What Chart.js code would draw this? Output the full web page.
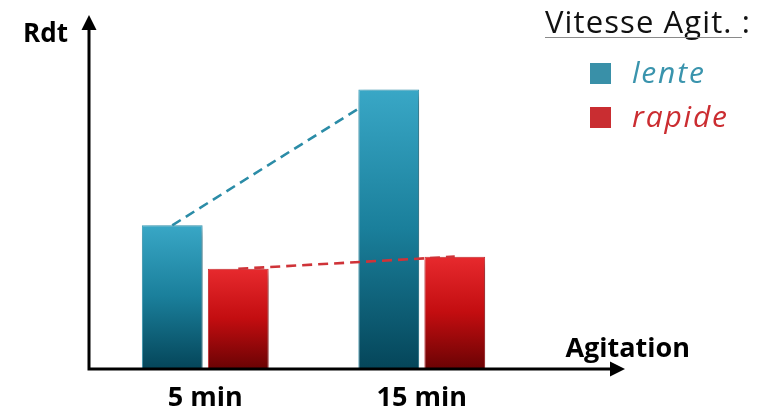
<!DOCTYPE html>
<html>
<head>
<meta charset="utf-8">
<script src="https://cdn.jsdelivr.net/npm/chart.js@4/dist/chart.umd.min.js"></script>
<style>
  html, body { margin: 0; padding: 0; background: #ffffff; }
  #wrap { width: 765px; height: 406px; }
</style>
</head>
<body>
<div id="wrap"><canvas id="chart" width="765" height="406"></canvas></div>
<script>
// Categories and values
const categories = ['5 min', '15 min'];
const seriesNames = ['lente', 'rapide'];
const lenteValues = [41, 80];
const rapideValues = [28.5, 32];
const legendTitle = 'Vitesse Agit. :';
const yTitle = 'Rdt';
const xTitle = 'Agitation';

const FONT = '"Open Sans", "Noto Sans", "DejaVu Sans", sans-serif';

// Vertical gradient running from the top of each bar to its base
function barGradient(stops) {
  return (ctx) => {
    const chart = ctx.chart;
    if (!chart.chartArea || ctx.type !== 'data') return stops[0][1];
    const y = chart.scales.y;
    const top = y.getPixelForValue(ctx.raw);
    const base = y.getPixelForValue(0);
    const g = chart.ctx.createLinearGradient(0, top, 0, base);
    stops.forEach(([p, c]) => g.addColorStop(p, c));
    return g;
  };
}

// Dashed trend lines joining the top centres of each series' bars
function strokeTrend(ctx, meta, color) {
  const pts = meta.data;
  if (pts.length < 2) return;
  ctx.save();
  ctx.strokeStyle = color;
  ctx.lineWidth = 2.6;
  ctx.setLineDash([10, 6]);
  ctx.beginPath();
  ctx.moveTo(pts[0].x, pts[0].y);
  for (let i = 1; i < pts.length; i++) ctx.lineTo(pts[i].x, pts[i].y);
  ctx.stroke();
  ctx.restore();
}

const trendLines = {
  id: 'trendLines',
  beforeDatasetsDraw(chart) {
    // first series: drawn behind all bars
    const ds = chart.data.datasets[0];
    strokeTrend(chart.ctx, chart.getDatasetMeta(0), ds.trendColor);
  },
  afterDatasetsDraw(chart) {
    // second series: over the other bars, but hidden behind its own bars
    const ctx = chart.ctx;
    const meta = chart.getDatasetMeta(1);
    const ds = chart.data.datasets[1];
    ctx.save();
    ctx.beginPath();
    ctx.rect(0, 0, chart.width, chart.height);
    meta.data.forEach(el => {
      const p = el.getProps(['x', 'y', 'base', 'width'], true);
      ctx.rect(p.x - p.width / 2, p.y + 1.5, p.width, p.base - p.y);
    });
    ctx.clip('evenodd');
    strokeTrend(ctx, meta, ds.trendColor);
    ctx.restore();
  }
};

// Soft drop shadow under the bars
const barShadow = {
  id: 'barShadow',
  beforeDatasetDraw(chart) {
    const ctx = chart.ctx;
    ctx.save();
    ctx.shadowColor = 'rgba(0,0,0,0.38)';
    ctx.shadowBlur = 10;
    ctx.shadowOffsetX = 4;
    ctx.shadowOffsetY = 5;
  },
  afterDatasetDraw(chart) {
    chart.ctx.restore();
  }
};

// Axes with arrow heads and their titles
const arrowAxes = {
  id: 'arrowAxes',
  afterDatasetsDraw(chart, args, opts) {
    const ctx = chart.ctx;
    const a = chart.chartArea;
    const ox = a.left - opts.originInset;
    const oy = a.bottom + 1;
    const xEnd = a.right + opts.xOverhang;
    const yEnd = opts.yTip;
    const head = 15, half = 7.5;
    ctx.save();
    ctx.strokeStyle = '#000';
    ctx.fillStyle = '#000';
    ctx.lineWidth = 3;
    ctx.lineCap = 'butt';
    ctx.beginPath();
    ctx.moveTo(ox, yEnd + head - 1);
    ctx.lineTo(ox, oy);
    ctx.lineTo(xEnd - head + 1, oy);
    ctx.stroke();
    ctx.beginPath();
    ctx.moveTo(ox, yEnd);
    ctx.lineTo(ox - half, yEnd + head);
    ctx.lineTo(ox + half, yEnd + head);
    ctx.closePath();
    ctx.fill();
    ctx.beginPath();
    ctx.moveTo(xEnd, oy);
    ctx.lineTo(xEnd - head, oy - half);
    ctx.lineTo(xEnd - head, oy + half);
    ctx.closePath();
    ctx.fill();

    ctx.font = 'bold 26px ' + FONT;
    ctx.textBaseline = 'alphabetic';
    ctx.textAlign = 'right';
    ctx.fillText(yTitle, ox - 21, 42);
    ctx.font = 'bold 27px ' + FONT;
    ctx.textAlign = 'right';
    ctx.fillText(xTitle, xEnd + 65, oy - 12);
    ctx.restore();
  }
};

// Legend block at the top right
const sideLegend = {
  id: 'sideLegend',
  afterDraw(chart, args, opts) {
    const ctx = chart.ctx;
    ctx.save();
    ctx.textBaseline = 'alphabetic';
    ctx.textAlign = 'left';
    ctx.fillStyle = '#111';
    ctx.font = '31px ' + FONT;
    ctx.letterSpacing = '1.1px';
    ctx.fillText(legendTitle, opts.x, opts.y);
    const w = ctx.measureText(legendTitle).width;
    ctx.strokeStyle = '#8a8a8a';
    ctx.lineWidth = 1.2;
    ctx.beginPath();
    ctx.moveTo(opts.x, opts.y + 4.5);
    ctx.lineTo(opts.x + w - 9, opts.y + 4.5);
    ctx.stroke();
    chart.data.datasets.forEach((ds, i) => {
      const by = opts.y + 30 + i * 44;
      ctx.fillStyle = ds.legendColor;
      ctx.fillRect(opts.x + 45, by, 21, 21);
      ctx.fillStyle = ds.legendTextColor;
      ctx.font = 'italic 30px ' + FONT;
      ctx.letterSpacing = '1.8px';
      ctx.fillText(ds.label, opts.x + 87, by + 20);
    });
    ctx.restore();
  }
};

const chart = new Chart(document.getElementById('chart'), {
  type: 'bar',
  data: {
    labels: categories,
    datasets: [
      {
        label: seriesNames[0],
        data: lenteValues,
        backgroundColor: barGradient([[0, '#39a7c6'], [0.5, '#1a7f9b'], [1, '#05465a']]),
        borderColor: '#3c9fba',
        borderWidth: 1,
        borderSkipped: 'bottom',
        trendColor: '#2b8ca7',
        legendColor: '#3990a8',
        legendTextColor: '#3a94ad',
        clip: false
      },
      {
        label: seriesNames[1],
        data: rapideValues,
        backgroundColor: barGradient([[0, '#e72a2e'], [0.5, '#c30d10'], [1, '#6c0304']]),
        borderColor: '#d23034',
        borderWidth: 1,
        borderSkipped: 'bottom',
        trendColor: '#cf3338',
        legendColor: '#c92d31',
        legendTextColor: '#cb2d31',
        clip: false
      }
    ]
  },
  options: {
    responsive: false,
    animation: false,
    events: [],
    categoryPercentage: 0.61,
    barPercentage: 0.92,
    layout: { padding: { left: 97, right: 235, top: 20, bottom: 0 } },
    scales: {
      x: {
        grid: { display: false },
        border: { display: false },
        ticks: {
          color: '#000',
          padding: 6,
          font: { family: FONT, size: 27, weight: 'bold' }
        },
        afterFit(scale) { scale.height = 38; }
      },
      y: {
        display: false,
        min: 0,
        max: 100
      }
    },
    plugins: {
      legend: { display: false },
      tooltip: { enabled: false },
      arrowAxes: { originInset: 8, xOverhang: 95, yTip: 15 },
      sideLegend: { x: 545, y: 33 }
    }
  },
  plugins: [trendLines, barShadow, arrowAxes, sideLegend]
});
</script>
</body>
</html>
